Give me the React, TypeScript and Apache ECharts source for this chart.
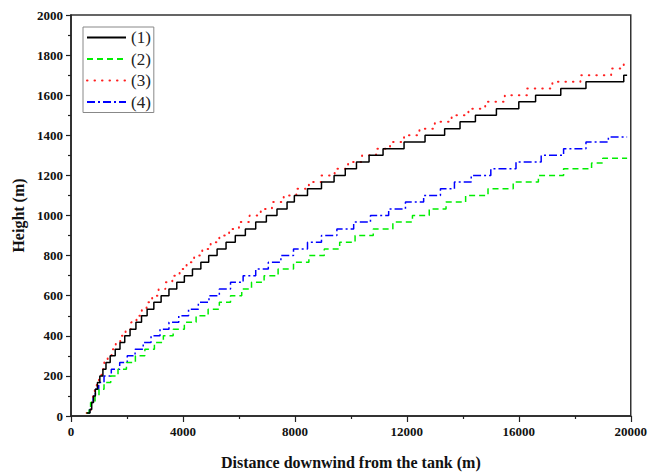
import React, { useEffect, useRef } from "react";
import * as echarts from "echarts";

// Tick labels
const xTicks = [0, 4000, 8000, 12000, 16000, 20000];
const yTicks = [0, 200, 400, 600, 800, 1000, 1200, 1400, 1600, 1800, 2000];

const seriesNames = ["(1)", "(2)", "(3)", "(4)"];
const seriesColors = ["#000000", "#00ee00", "#ff2020", "#0000ff"];

// Each pair: [distance where plateau starts (m), height level (m)]
const curve1: [number, number][] = [
  [560, 15], [680, 33], [740, 67], [805, 100], [870, 133], [945, 167], [1030, 200],
  [1140, 233], [1250, 267], [1400, 300], [1580, 333], [1750, 367], [1920, 400],
  [2110, 433], [2320, 467], [2520, 500], [2720, 533], [2960, 567], [3220, 600],
  [3500, 633], [3780, 667], [4050, 700], [4340, 733], [4640, 767], [4920, 800],
  [5220, 833], [5540, 867], [5870, 900], [6230, 933], [6600, 967], [6980, 1000],
  [7360, 1033], [7720, 1067], [7980, 1100], [8450, 1133], [8950, 1167], [9400, 1200],
  [9800, 1233], [10200, 1267], [10650, 1300], [11150, 1333], [11900, 1367],
  [12650, 1400], [13350, 1433], [13900, 1467], [14450, 1500], [15200, 1533],
  [16000, 1567], [16600, 1600], [17500, 1633], [18400, 1667], [19750, 1700], [19870, 1700],
];

const curve2: [number, number][] = [
  [560, 15], [650, 33], [700, 67], [860, 100], [1000, 133], [1180, 167], [1420, 200],
  [1680, 233], [1980, 267], [2300, 300], [2640, 333], [2980, 367], [3300, 400],
  [3650, 433], [4050, 467], [4470, 500], [4900, 533], [5300, 567], [5700, 600],
  [6100, 633], [6450, 667], [6900, 700], [7400, 733], [7950, 767], [8500, 800],
  [9050, 833], [9600, 867], [10150, 900], [10800, 933], [11500, 967], [12200, 1000],
  [12800, 1033], [13400, 1067], [14100, 1100], [14900, 1133], [15800, 1167],
  [16700, 1200], [17600, 1233], [18600, 1262], [19000, 1285], [19870, 1285],
];

const curve3: [number, number][] = [
  [560, 15], [670, 33], [730, 67], [790, 100], [850, 133], [920, 167], [1000, 200],
  [1090, 233], [1190, 267], [1310, 300], [1450, 333], [1600, 367], [1760, 400],
  [1950, 433], [2150, 467], [2340, 500], [2530, 533], [2700, 567], [2900, 600],
  [3130, 633], [3370, 667], [3620, 700], [3880, 733], [4130, 767], [4400, 800],
  [4690, 833], [4990, 867], [5300, 900], [5650, 933], [6000, 967], [6380, 1000],
  [6780, 1033], [7180, 1067], [7600, 1100], [8050, 1133], [8500, 1167], [8950, 1200],
  [9420, 1233], [9900, 1267], [10400, 1300], [10900, 1333], [11400, 1367],
  [11900, 1400], [12450, 1433], [13000, 1467], [13600, 1500], [14200, 1533],
  [14800, 1567], [15500, 1600], [16300, 1633], [17200, 1667], [18200, 1700],
  [19300, 1733], [19750, 1755], [19870, 1755],
];

const curve4: [number, number][] = [
  [560, 15], [660, 33], [720, 67], [790, 100], [870, 133], [990, 167], [1180, 200],
  [1440, 233], [1740, 267], [2010, 300], [2290, 333], [2580, 367], [2860, 400],
  [3180, 433], [3500, 467], [3850, 500], [4200, 533], [4550, 567], [4930, 600],
  [5300, 633], [5700, 667], [6150, 700], [6600, 733], [7050, 767], [7500, 800],
  [7950, 833], [8450, 867], [8950, 900], [9500, 933], [10100, 967], [10700, 1000],
  [11350, 1033], [11950, 1067], [12600, 1100], [13200, 1133], [13700, 1167],
  [14300, 1200], [15000, 1233], [15900, 1267], [16800, 1300], [17600, 1333],
  [18400, 1367], [19200, 1392], [19870, 1392],
];

const curves = [curve1, curve2, curve3, curve4];
const dashTypes: any[] = ["solid", [6, 4], [0.5, 7], [8, 3, 2, 3]];

const FONT = '"Liberation Serif", "Times New Roman", serif';

export default function App() {
  const ref = useRef<HTMLDivElement>(null);

  useEffect(() => {
    if (!ref.current) return;
    const chart = echarts.init(ref.current, null, { renderer: "svg" });
    chart.setOption({
      animation: false,
      backgroundColor: "#ffffff",
      grid: {
        left: 71,
        right: 18,
        top: 15,
        bottom: 60,
        show: true,
        borderColor: "#333333",
        borderWidth: 1.5,
        backgroundColor: "transparent",
      },
      legend: {
        orient: "vertical",
        left: 83,
        top: 27,
        data: seriesNames,
        itemWidth: 39,
        itemHeight: 12,
        itemGap: 4.5,
        padding: [2, 3, 2, 3],
        borderColor: "#888888",
        borderWidth: 1,
        itemStyle: { opacity: 0 },
        textStyle: { fontFamily: FONT, fontSize: 17, color: "#222" },
      },
      xAxis: {
        type: "value",
        min: 0,
        max: 20000,
        interval: 4000,
        name: "Distance downwind from the tank (m)",
        nameLocation: "middle",
        nameGap: 38,
        nameMoveOverlap: false,
        nameTextStyle: { fontFamily: FONT, fontSize: 16, fontWeight: "bold", color: "#111" },
        axisLine: { show: true, lineStyle: { color: "#222", width: 1.5 } },
        axisTick: { show: true, inside: false, length: 6, lineStyle: { color: "#222", width: 1.2 } },
        minorTick: { show: true, splitNumber: 2, length: 3, lineStyle: { color: "#222", width: 1.2 } },
        splitLine: { show: false },
        axisLabel: {
          fontFamily: FONT,
          fontSize: 13,
          fontWeight: "bold",
          color: "#111",
          margin: 9,
          formatter: (v: number) => (xTicks.includes(v) ? String(v) : ""),
        },
      },
      yAxis: {
        type: "value",
        min: 0,
        max: 2000,
        interval: 200,
        name: "Height (m)",
        nameLocation: "middle",
        nameGap: 45,
        nameRotate: 90,
        nameMoveOverlap: false,
        nameTextStyle: { fontFamily: FONT, fontSize: 16, fontWeight: "bold", color: "#111" },
        axisLine: { show: true, lineStyle: { color: "#222", width: 1.5 } },
        axisTick: { show: true, inside: false, length: 5, lineStyle: { color: "#222", width: 1.2 } },
        minorTick: { show: true, splitNumber: 2, length: 3, lineStyle: { color: "#222", width: 1.2 } },
        splitLine: { show: false },
        axisLabel: {
          fontFamily: FONT,
          fontSize: 13,
          fontWeight: "bold",
          color: "#111",
          margin: 8,
          formatter: (v: number) => (yTicks.includes(v) ? String(v) : ""),
        },
      },
      series: curves.map((c, i) => ({
        name: seriesNames[i],
        type: "line",
        data: c,
        step: "end",
        symbol: "none",
        showSymbol: false,
        color: seriesColors[i],
        lineStyle: {
          color: seriesColors[i],
          width: i === 2 ? 2 : 1.5,
          type: dashTypes[i],
          cap: i === 2 ? "round" : "butt",
        },
        z: 4 - i,
      })),
    });
    return () => chart.dispose();
  }, []);

  return (
    <div
      ref={ref}
      style={{ position: "fixed", left: 0, top: 0, width: 650, height: 476, background: "#fff" }}
    />
  );
}
